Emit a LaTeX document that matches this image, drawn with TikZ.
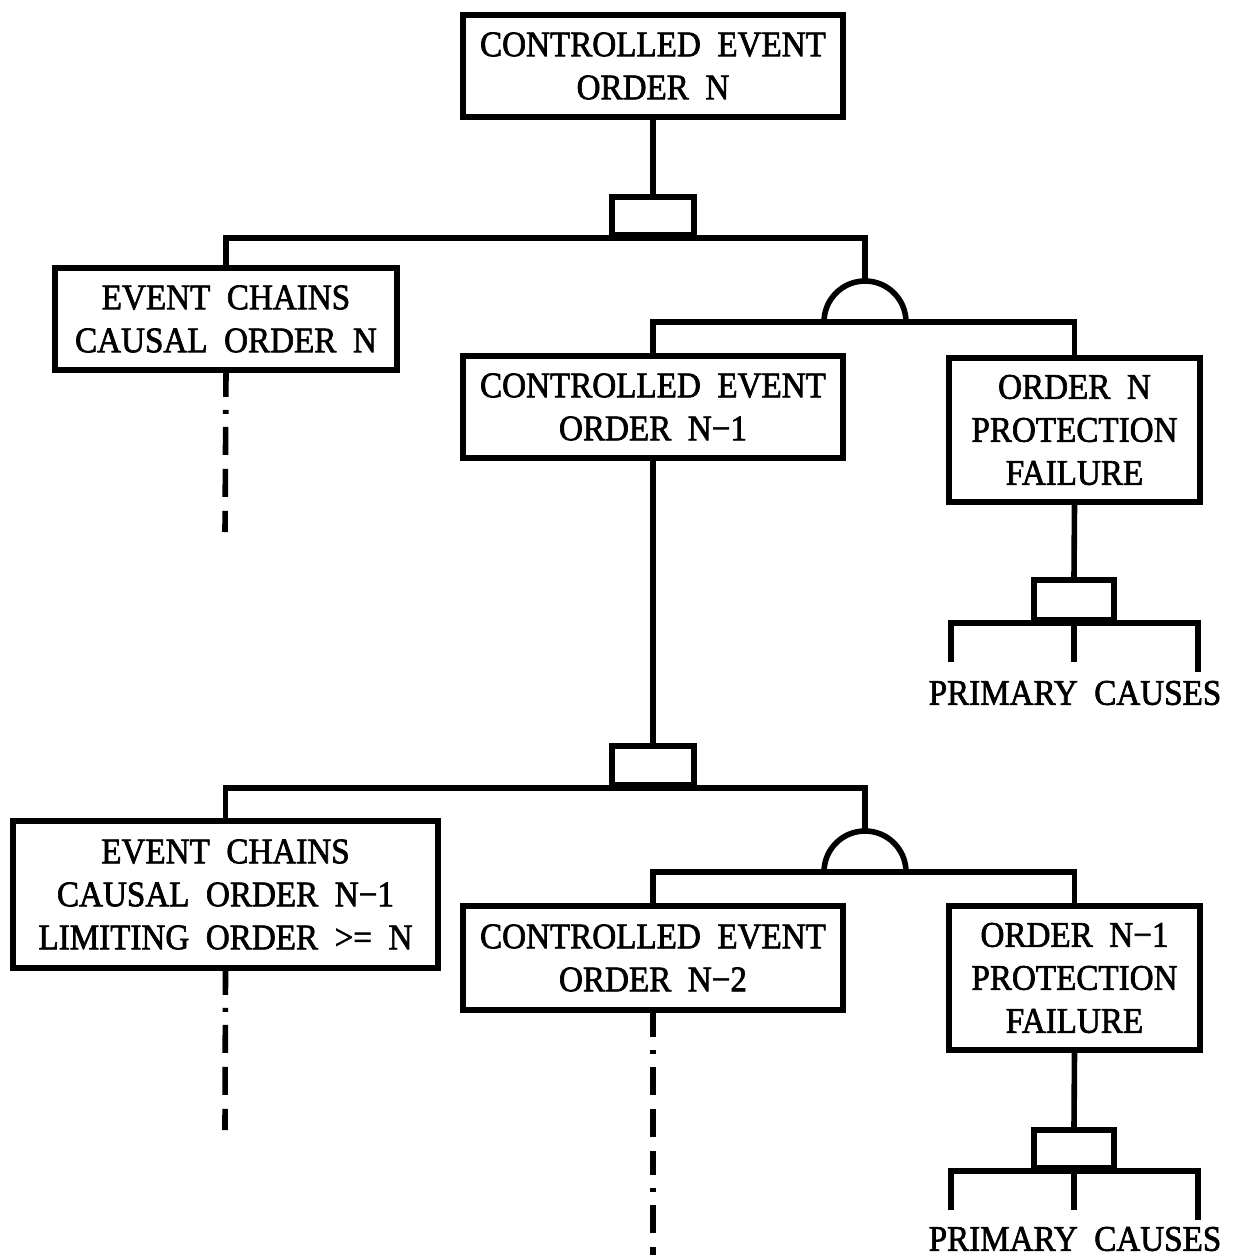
\documentclass[tikz,border=0pt]{standalone}
\usepackage{fontspec}
\setmainfont{Liberation Serif}[FakeStretch=0.92,FakeBold=1.8]
\begin{document}
\begin{tikzpicture}[
  x=0.5pt, y=-0.5pt,
  line width=2.8pt,
  txt/.style={font=\fontsize{18pt}{21.5pt}\selectfont, align=center, inner sep=0pt},
  event/.style 2 args={draw, txt, minimum width=#1*0.5pt, minimum height=#2*0.5pt},
  orgate/.style 2 args={draw, inner sep=0pt, minimum width=#1*0.5pt, minimum height=#2*0.5pt},
  cont/.style={dash pattern=on 12pt off 6.5pt on 2pt off 6.5pt on 14pt off 7pt on 14pt off 7pt},
]
\useasboundingbox (0,0) rectangle (1237,1259);

% ---------- events ----------
\node[event={380}{102}] (top)  at (653,66)    {CONTROLLED\ \ EVENT\\ORDER\ \ N};
\node[event={342}{102}] (ec1)  at (226,319)   {EVENT\ \ CHAINS\\CAUSAL\ \ ORDER\ \ N};
\node[event={380}{102}] (ce1)  at (653,407)   {CONTROLLED\ \ EVENT\\ORDER\ \ N−1};
\node[event={251}{144}] (pf1)  at (1074.5,430){ORDER\ \ N\\PROTECTION\\FAILURE};
\node[event={425}{147}] (ec2)  at (225.5,894.5){EVENT\ \ CHAINS\\CAUSAL\ \ ORDER\ \ N−1\\LIMITING\ \ ORDER\ \ >=\ \ N};
\node[event={380}{104}] (ce2)  at (653,958)   {CONTROLLED\ \ EVENT\\ORDER\ \ N−2};
\node[event={251}{144}] (pf2)  at (1074.5,978){ORDER\ \ N−1\\PROTECTION\\FAILURE};

% ---------- OR gates ----------
\node[orgate={82}{38}] (or1) at (653,216)  {};
\node[orgate={82}{39}] (or2) at (653,765.5){};
\node[orgate={80}{40}] (or3) at (1074,600) {};
\node[orgate={80}{38}] (or4) at (1074,1149){};

% ---------- AND gates (chord centre and top) ----------
\coordinate (and1) at (865,322);
\coordinate (and1top) at (865,281);
\coordinate (and2) at (865,872);
\coordinate (and2top) at (865,831);
\draw (and1) ++(-41,0) arc[start angle=180, end angle=360, radius=41];
\draw (and2) ++(-41,0) arc[start angle=180, end angle=360, radius=41];

% ---------- first level ----------
\draw (top.south) -- (or1.north);
\draw (ec1.north) -- (ec1.north |- or1.south) -- (and1top |- or1.south) -- (and1top);
\draw (ce1.north) -- (ce1.north |- and1) -- (pf1.north |- and1) -- (pf1.north);
\draw (pf1.south) -- (or3.north);

% primary causes under order N protection failure
\coordinate (pa1) at (951,662);
\coordinate (pb1) at (1074,662);
\coordinate (pc1) at (1198,672);
\draw (pa1) -- (pa1 |- or3.south) -- (pc1 |- or3.south) -- (pc1);
\draw (or3.south) -- (pb1);
\node[txt] (pc1txt) at (1075,693) {PRIMARY\ \ CAUSES};

% ---------- second level ----------
\draw (ce1.south) -- (or2.north);
\draw (ec2.north) -- (ec2.north |- or2.south) -- (and2top |- or2.south) -- (and2top);
\draw (ce2.north) -- (ce2.north |- and2) -- (pf2.north |- and2) -- (pf2.north);
\draw (pf2.south) -- (or4.north);

% primary causes under order N-1 protection failure
\coordinate (pa2) at (951,1210);
\coordinate (pb2) at (1074,1210);
\coordinate (pc2) at (1198,1220);
\draw (pa2) -- (pa2 |- or4.south) -- (pc2 |- or4.south) -- (pc2);
\draw (or4.south) -- (pb2);
\node[txt] (pc2txt) at (1075,1239) {PRIMARY\ \ CAUSES};

% ---------- continuation lines ----------
\coordinate (d1) at (225,532);
\coordinate (d2) at (225,1130);
\coordinate (d3) at (653,1255);
\draw[cont] (ec1.south) -- (d1);
\draw[cont] (ec2.south) -- (d2);
\draw[cont] (ce2.south) -- (d3);
\end{tikzpicture}
\end{document}
